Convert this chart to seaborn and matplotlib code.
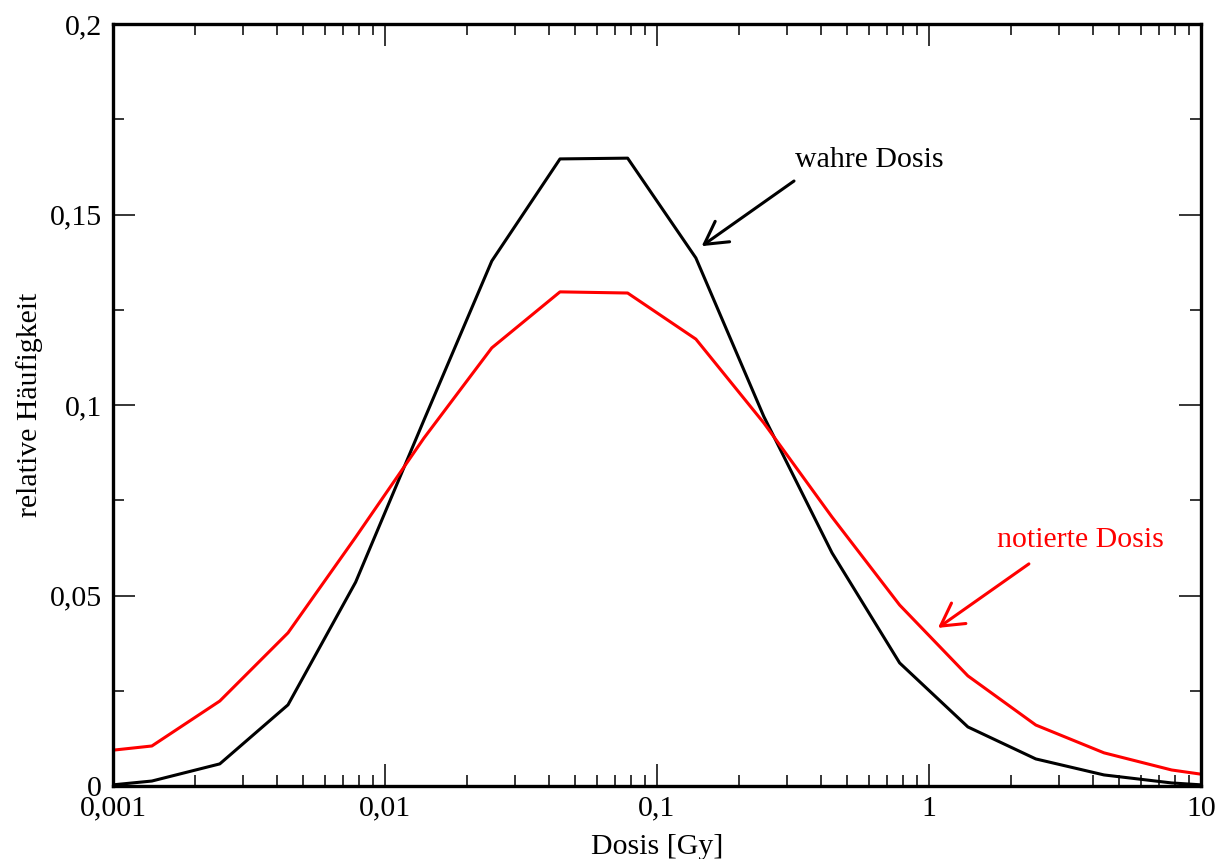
import numpy as np
import pandas as pd
import matplotlib
matplotlib.use("Agg")
import matplotlib.pyplot as plt
from matplotlib.ticker import FixedLocator, NullFormatter
import seaborn as sns

# dose bins (Gy), log spaced, plus the plot edges
dose = [0.001, 0.00139, 0.00247, 0.0044, 0.0078, 0.0139, 0.0247, 0.044, 0.078,
        0.139, 0.247, 0.44, 0.78, 1.39, 2.47, 4.4, 7.8, 10]
wahre = [0.0003, 0.0013, 0.0058, 0.0213, 0.0535, 0.096, 0.1378, 0.1646, 0.1648,
         0.1386, 0.097, 0.0612, 0.0323, 0.0155, 0.0071, 0.0029, 0.0008, 0.0003]
notierte = [0.0094, 0.0105, 0.0223, 0.0402, 0.0653, 0.0913, 0.115, 0.1297, 0.1294,
            0.1173, 0.0953, 0.0706, 0.0475, 0.0289, 0.016, 0.0087, 0.0042, 0.0031]

xticks = [0.001, 0.01, 0.1, 1, 10]
xlabels = ["0,001", "0,01", "0,1", "1", "10"]
yticks = [0, 0.05, 0.1, 0.15, 0.2]
ylabels = ["0", "0,05", "0,1", "0,15", "0,2"]

df = pd.DataFrame({
    "Dosis": dose * 2,
    "rel": wahre + notierte,
    "Serie": ["wahre Dosis"] * len(dose) + ["notierte Dosis"] * len(dose),
})

sns.set_style("ticks")
plt.rcParams["font.family"] = ["Liberation Serif", "DejaVu Serif"]
plt.rcParams["text.color"] = "black"
plt.rcParams["axes.labelcolor"] = "black"
fs = 21.5

fig = plt.figure(figsize=(12.28, 8.59), dpi=100)
ax = fig.add_axes([0.092, 0.085, 0.886, 0.887])

sns.lineplot(data=df, x="Dosis", y="rel", hue="Serie",
             palette={"wahre Dosis": "black", "notierte Dosis": "#ff0000"},
             linewidth=2.2, legend=False, ax=ax, estimator=None, sort=True)

ax.set_xscale("log")
ax.set_xlim(0.001, 10)
ax.set_ylim(0, 0.2)
ax.set_xticks(xticks)
ax.set_xticklabels(xlabels)
ax.xaxis.set_minor_locator(FixedLocator(
    [m * 10.0 ** e for e in range(-3, 1) for m in range(2, 10)]))
ax.xaxis.set_minor_formatter(NullFormatter())
ax.set_yticks(yticks)
ax.set_yticklabels(ylabels)
ax.yaxis.set_minor_locator(FixedLocator([0.025, 0.075, 0.125, 0.175]))

ax.tick_params(which="both", direction="in", top=True, right=True,
               width=1.1, colors="black", labelsize=fs)
ax.tick_params(which="major", length=15.5)
ax.tick_params(which="minor", length=8)
ax.tick_params(axis="x", which="major", pad=7)
ax.tick_params(axis="y", which="major", pad=8)
for s in ax.spines.values():
    s.set_linewidth(2.4)
    s.set_color("black")

ax.set_xlabel("Dosis [Gy]", fontsize=fs, labelpad=9)
ax.set_ylabel("relative Häufigkeit", fontsize=fs, labelpad=5)

arrow = "->,head_length=0.8,head_width=0.45"
ax.text(0.3216, 0.1643, "wahre Dosis", fontsize=fs, ha="left", va="center",
        color="black")
ax.annotate("", xy=(0.146, 0.1417), xytext=(0.319, 0.1588),
            arrowprops=dict(arrowstyle=arrow, mutation_scale=20, lw=2.2,
                            color="black", shrinkA=0, shrinkB=0))
ax.text(1.778, 0.0646, "notierte Dosis", fontsize=fs, ha="left", va="center",
        color="#ff0000")
ax.annotate("", xy=(1.079, 0.0415), xytext=(2.33, 0.0583),
            arrowprops=dict(arrowstyle=arrow, mutation_scale=20, lw=2.2,
                            color="#ff0000", shrinkA=0, shrinkB=0))

fig.savefig("out.png", dpi=100)
